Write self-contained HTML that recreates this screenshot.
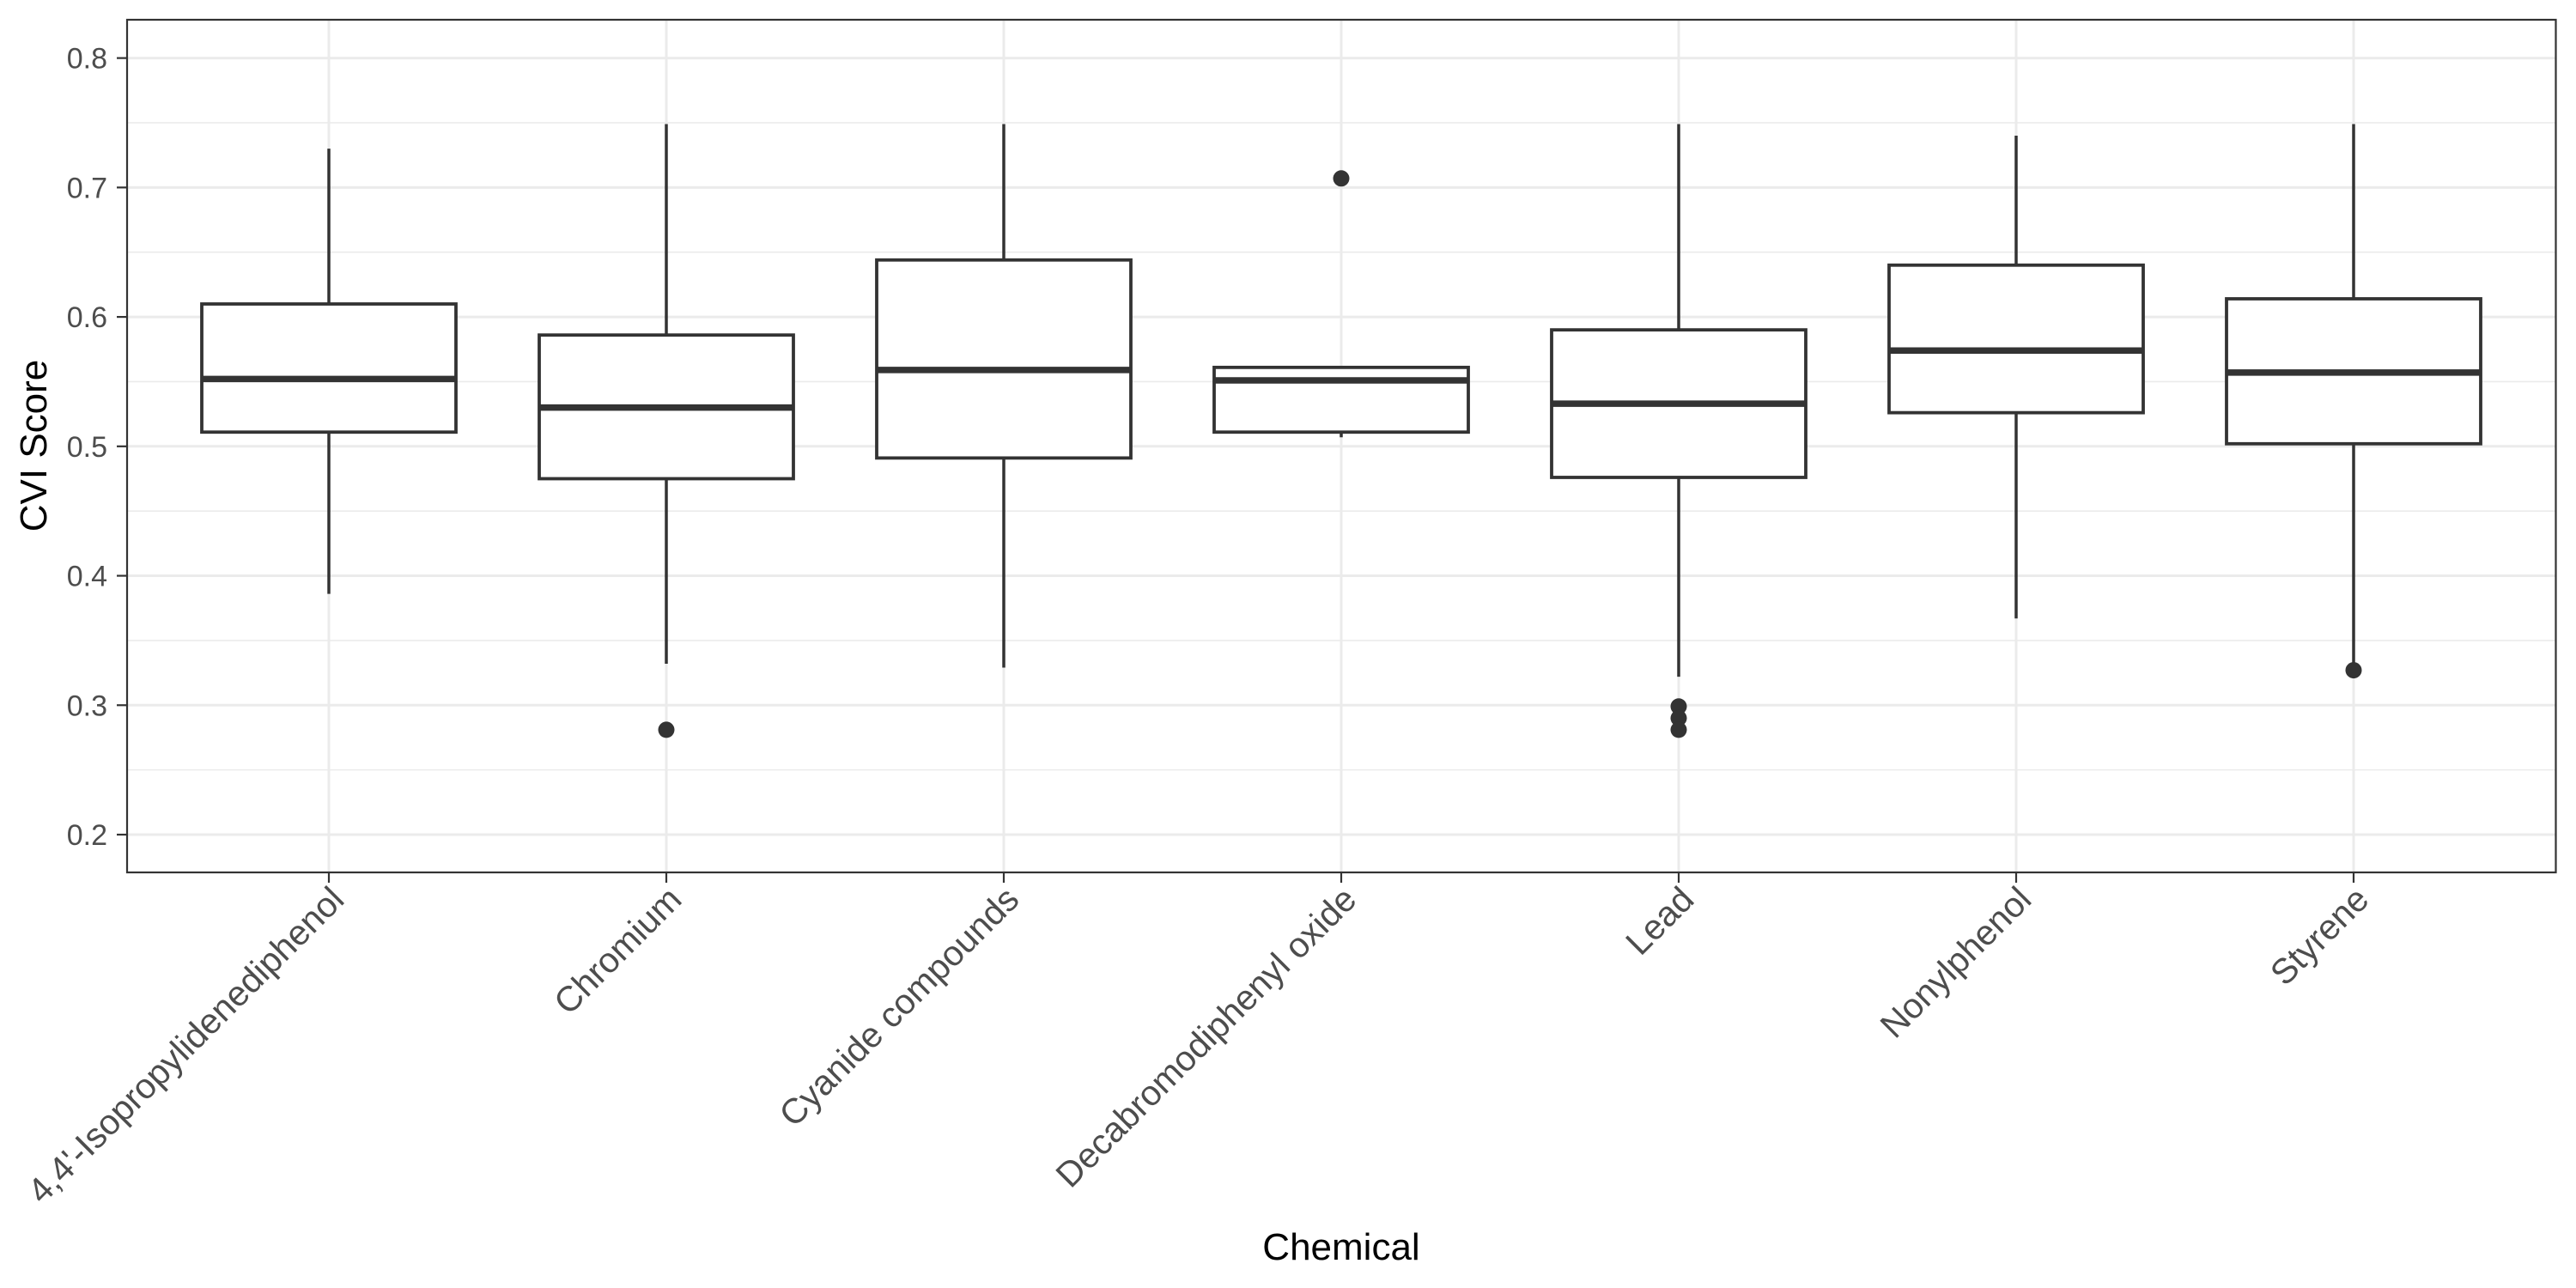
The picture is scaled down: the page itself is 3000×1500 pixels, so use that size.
<!DOCTYPE html>
<html><head><meta charset="utf-8"><style>
html,body{margin:0;padding:0;background:#fff;}
svg{display:block;font-family:"Liberation Sans",Arial,sans-serif;}
</style></head><body>
<svg id="chart" width="3000" height="1500" viewBox="0 0 3000 1500" xmlns="http://www.w3.org/2000/svg">
<rect x="0" y="0" width="3000" height="1500" fill="#fff"/>
<g id="grid"></g>
<g id="boxes"></g>
<rect x="148" y="23" width="2828.5" height="993" fill="none" stroke="#333" stroke-width="2.2"/>
<g id="axes"></g>
<text x="1562" y="1467" font-size="44" text-anchor="middle" fill="#000">Chemical</text>
<text transform="translate(54,519) rotate(-90)" font-size="44" text-anchor="middle" fill="#000">CVI Score</text>
</svg>
<script>
const categories = ["4,4'-Isopropylidenediphenol","Chromium","Cyanide compounds","Decabromodiphenyl oxide","Lead","Nonylphenol","Styrene"];
const whiskerLow = [0.386,0.332,0.329,0.507,0.322,0.367,0.333];
const q1 = [0.511,0.475,0.491,0.511,0.476,0.526,0.502];
const median = [0.552,0.530,0.559,0.551,0.533,0.574,0.557];
const q3 = [0.610,0.586,0.644,0.561,0.590,0.640,0.614];
const whiskerHigh = [0.730,0.749,0.749,0.561,0.749,0.740,0.749];
const outliers = [[],[0.281],[],[0.707],[0.299,0.290,0.281],[],[0.327]];
const yTicks = [0.2,0.3,0.4,0.5,0.6,0.7,0.8];
const yTickLabels = ["0.2","0.3","0.4","0.5","0.6","0.7","0.8"];

const NS="http://www.w3.org/2000/svg";
const L=148,R=2976.5,T=23,B=1016;
function y(v){return 972-(v-0.2)*1507.3;}
function x(i){return 383+i*393;}
const halfW=148;
function mk(tag,attrs,parent){const e=document.createElementNS(NS,tag);for(const k in attrs)e.setAttribute(k,attrs[k]);parent.appendChild(e);return e;}
const grid=document.getElementById('grid'),boxes=document.getElementById('boxes'),axes=document.getElementById('axes');
for(let i=0;i<yTicks.length-1;i++){
  const m=(yTicks[i]+yTicks[i+1])/2;
  const ln=mk('line',{x1:L,x2:R,y1:y(m),y2:y(m),stroke:'#ebebeb','stroke-width':1.6},grid);
  
  
}
yTicks.forEach((t,i)=>{
  const ln=mk('line',{x1:L,x2:R,y1:y(t),y2:y(t),stroke:'#ebebeb','stroke-width':3},grid);
  
  
  const tk=mk('line',{x1:136,x2:L,y1:y(t),y2:y(t),stroke:'#333','stroke-width':2.2},axes);
  
  
  const tx=mk('text',{x:125,y:y(t)+12,'font-size':34,'text-anchor':'end',fill:'#4d4d4d'},axes);
  tx.textContent=yTickLabels[i];
  
  
});
categories.forEach((c,i)=>{
  const cx=x(i);
  const gl=mk('line',{x1:cx,x2:cx,y1:T,y2:B,stroke:'#ebebeb','stroke-width':3},grid);
  
  
  const g=mk('g',{},boxes);
  
  
  mk('line',{x1:cx,x2:cx,y1:y(q3[i]),y2:y(whiskerHigh[i]),stroke:'#333','stroke-width':3.5},g);
  mk('line',{x1:cx,x2:cx,y1:y(q1[i]),y2:y(whiskerLow[i]),stroke:'#333','stroke-width':3.5},g);
  mk('rect',{x:cx-halfW,y:y(q3[i]),width:2*halfW,height:y(q1[i])-y(q3[i]),fill:'#fff',stroke:'#333','stroke-width':3.8},g);
  mk('line',{x1:cx-halfW,x2:cx+halfW,y1:y(median[i]),y2:y(median[i]),stroke:'#333','stroke-width':7.5},g);
  outliers[i].forEach(o=>{
    const p=mk('circle',{cx:cx,cy:y(o),r:9.5,fill:'#333'},g);
    
    
  });
  const tk=mk('line',{x1:cx,x2:cx,y1:B,y2:B+12,stroke:'#333','stroke-width':2.2},axes);
  
  
  const tx=mk('text',{transform:'translate('+(cx+20)+',1050) rotate(-45)','font-size':41,'text-anchor':'end',fill:'#4d4d4d'},axes);
  tx.textContent=c;
  
  
});
</script>
</body></html>
